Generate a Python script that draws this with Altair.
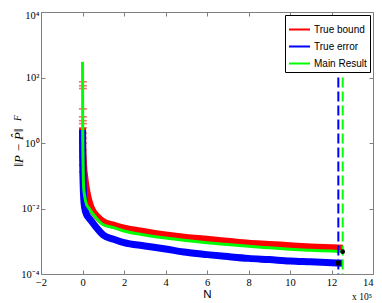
import altair as alt
import pandas as pd

series_names = ["True bound", "True error", "Main Result"]
series_colors = ["#ff0000", "#0000ff", "#00ff00"]

# N in units of 1e5
n_vals = [0.002, 0.01, 0.03, 0.06, 0.1, 0.2, 0.3, 0.42, 0.7, 1.0, 1.5, 2, 3, 4,
          5, 6, 7, 8, 9, 10, 11, 12, 12.55]
true_bound = [2.9, 1.0, 0.4, 0.18, 0.1, 0.035, 0.018, 0.0105, 5.8e-3, 3.95e-3,
              3.1e-3, 2.5e-3, 1.95e-3, 1.55e-3, 1.3e-3, 1.15e-3, 1.0e-3, 8.7e-4,
              8.0e-4, 7.3e-4, 6.7e-4, 6.3e-4, 6.1e-4]
true_error = [2.5, 0.3, 0.06, 0.02, 0.011, 6.5e-3, 5.2e-3, 4.2e-3, 2.5e-3, 1.55e-3,
              1.15e-3, 9.0e-4, 7.2e-4, 5.8e-4, 4.6e-4, 3.9e-4, 3.4e-4, 3.0e-4,
              2.75e-4, 2.5e-4, 2.35e-4, 2.2e-4, 2.12e-4]
main_result = [300, 3, 0.2, 0.04, 0.025, 0.013, 0.0105, 8.0e-3, 4.8e-3, 3.2e-3,
               2.6e-3, 2.06e-3, 1.55e-3, 1.25e-3, 1.05e-3, 9.0e-4, 7.9e-4, 7.0e-4,
               6.3e-4, 5.7e-4, 5.3e-4, 5.0e-4, 4.8e-4]

# error-bar caps of the true bound near N = 0
cap_n = [0.02] * 15
cap_values = [74, 56, 46, 11, 6.3, 4.8, 3.9, 2.9, 2.0, 1.42, 1.0, 0.61, 0.37, 0.21, 0.13]

# dashed vertical markers
dash_n = [12.33, 12.54]
dash_top = [100, 100]
dash_bottom = [1e-4, 1e-4]

# end-point markers
marker_n = [12.33, 12.54]
marker_val = [2.15e-4, 4.8e-4]

x_ticks = [-2, 0, 2, 4, 6, 8, 10, 12, 14]
y_ticks = [1e-4, 1e-2, 1, 1e2, 1e4]

rows = []
for name, vals in zip(series_names, [true_bound, true_error, main_result]):
    for n, v in zip(n_vals, vals):
        rows.append({"n": n, "v": v, "series": name})
df = pd.DataFrame(rows)
caps = pd.DataFrame({"n": cap_n, "v": cap_values})
dashes = pd.DataFrame({"n": dash_n, "top": dash_top, "bottom": dash_bottom})
markers = pd.DataFrame({"n": marker_n, "v": marker_val})

xs = alt.Scale(domain=[-2, 14], nice=False, zero=False)
ys = alt.Scale(type="log", domain=[1e-4, 1e4], nice=False)
cs = alt.Scale(domain=series_names, range=series_colors)
GRAY = "#808080"

ylab = ("datum.value >= 5000 ? '10\u2074' : datum.value >= 50 ? '10\u00b2' : "
        "datum.value >= 0.5 ? '10\u2070' : datum.value >= 0.005 ? '10\u207b\u00b2' : '10\u207b\u2074'")

x_bottom = alt.Axis(values=x_ticks, orient="bottom", offset=-4, tickSize=4, domain=False,
                    grid=False, labelFont="Liberation Serif", labelFontSize=10.5,
                    labelColor="black", labelPadding=3, tickColor=GRAY, format="d",
                    labelAlign={"condition": {"test": "datum.value >= 14", "value": "right"},
                                "value": "center"},
                    labelFlush=False, labelOverlap=False, title="N",
                    titleFont="Liberation Sans", titleFontSize=11.5,
                    titleFontWeight="normal", titleColor="black", titlePadding=1)
y_left = alt.Axis(values=y_ticks, orient="left", offset=-4, tickSize=4, domain=False,
                  grid=False, labelExpr=ylab, labelFont="Liberation Serif",
                  labelFontSize=10.5, labelColor="black", labelPadding=2, tickColor=GRAY,
                  labelOverlap=False, labelFlush=False,
                  labelOffset={"condition": {"test": "datum.value >= 5000", "value": 3},
                               "value": 0},
                  title="\u2016P \u2212 P\u0302\u2016", titleFont="Liberation Serif",
                  titleFontStyle="italic", titleFontSize=13, titleFontWeight="normal",
                  titleColor="black", titleAngle=270, titleX=-23, titleY=135,
                  titleAlign="center", titleBaseline="alphabetic")
x_top = alt.Axis(values=x_ticks, orient="top", offset=-4, tickSize=4, domain=False,
                 grid=False, labels=False, tickColor=GRAY, title=None)
y_right = alt.Axis(values=y_ticks, orient="right", offset=-4, tickSize=4, domain=False,
                   grid=False, labels=False, tickColor=GRAY, title=None)

legend = alt.Legend(title=None, orient="none", legendX=244, legendY=3,
                    symbolType="stroke", symbolSize=440, symbolStrokeWidth=2,
                    labelFont="Liberation Sans", labelFontSize=10, labelColor="black",
                    padding=3, rowPadding=-10, strokeColor="black", fillColor="white",
                    labelOffset=3, labelLimit=200)

widths = {"True bound": 7, "True error": 7, "Main Result": 3}


def line_layer(name, first=False):
    return alt.Chart(df).transform_filter(alt.datum.series == name).mark_line(
        strokeWidth=widths[name], clip=True, interpolate="monotone"
    ).encode(
        x=alt.X("n:Q", scale=xs, axis=x_bottom if first else None),
        y=alt.Y("v:Q", scale=ys, axis=y_left if first else None),
        color=alt.Color("series:N", scale=cs, legend=legend),
        order="n:Q",
    )


red = line_layer("True bound", first=True)
cap_layer = alt.Chart(caps).mark_tick(orient="horizontal", size=8, thickness=1.6,
                                      color="#ff3030").encode(
    x=alt.X("n:Q", scale=xs, axis=None), y=alt.Y("v:Q", scale=ys, axis=None))
blue = line_layer("True error")
green = line_layer("Main Result")

dash_layers = []
for i, col in enumerate(["#0000ff", "#00ff00"]):
    dash_layers.append(
        alt.Chart(dashes.iloc[[i]]).mark_rule(color=col, strokeWidth=2,
                                              strokeDash=[10, 4]).encode(
            x=alt.X("n:Q", scale=xs, axis=None),
            y=alt.Y("top:Q", scale=ys, axis=None),
            y2="bottom:Q"))

mark_layers = []
for i, shp in enumerate(["square", "circle"]):
    mark_layers.append(
        alt.Chart(markers.iloc[[i]]).mark_point(shape=shp, filled=True, color="black",
                                                size=22, opacity=1).encode(
            x=alt.X("n:Q", scale=xs, axis=None), y=alt.Y("v:Q", scale=ys, axis=None)))

axes2 = alt.Chart(df).mark_point(opacity=0).encode(
    x=alt.X("n:Q", scale=xs, axis=x_top), y=alt.Y("v:Q", scale=ys, axis=y_right))

sub_f = alt.Chart(pd.DataFrame({"t": ["F"]})).mark_text(
    angle=270, font="Liberation Serif", fontStyle="italic", fontSize=9.5,
    align="center", baseline="alphabetic", color="black").encode(
    x=alt.value(-20), y=alt.value(106), text="t:N")

exp_txt = alt.Chart(pd.DataFrame({"t": ["x 10\u2075"]})).mark_text(
    font="Liberation Serif", fontSize=9.5, align="left", baseline="alphabetic",
    color="black").encode(x=alt.value(311), y=alt.value(288), text="t:N")

chart = alt.layer(red, cap_layer, blue, green, *dash_layers, *mark_layers, axes2,
                  sub_f, exp_txt).resolve_axis(
    x="independent", y="independent"
).properties(
    width=332, height=262,
    autosize=alt.AutoSizeParams(type="none"),
    padding={"left": 33, "top": 4, "right": 1, "bottom": 29},
    background="white",
).configure_view(stroke=GRAY, strokeWidth=1)

chart.save("out.html", embed_options={"renderer": "svg", "actions": False})
